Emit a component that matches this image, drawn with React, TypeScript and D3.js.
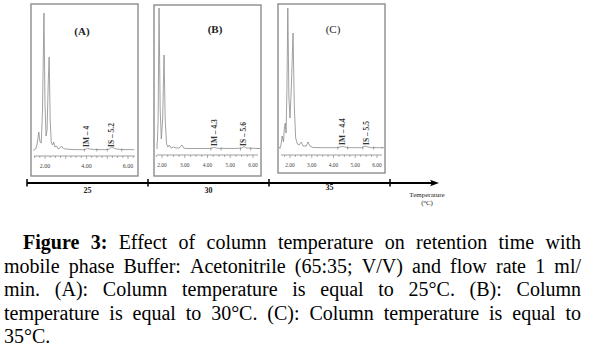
import React, { useMemo } from 'react';
import * as d3 from 'd3';

// ---------- DATA ----------
const temperatures = [25, 30, 35];
const panelTitles = ['(A)', '(B)', '(C)'];

// chromatogram traces: [retention time (min), signal above baseline]
const traceA: [number, number][] = [
  [1.45, 0], [1.55, 1], [1.62, 6], [1.7, 18], [1.76, 8], [1.82, 7], [1.88, 40], [1.95, 137],
  [2.0, 45], [2.05, 14], [2.1, 20], [2.16, 70], [2.2, 93], [2.25, 30], [2.3, 8], [2.36, 5],
  [2.42, 8], [2.48, 3], [2.56, 4], [2.64, 1], [2.72, 2], [2.8, 4], [2.88, 1.5], [3.0, 1],
  [3.3, 0.5], [3.8, 0.3], [3.95, 0.5], [4.05, 1.8], [4.15, 1], [4.4, 0.5], [4.9, 0.3],
  [5.1, 0.8], [5.2, 3], [5.3, 2], [5.45, 1], [5.7, 0.5], [6.2, 0.3],
];
const traceB: [number, number][] = [
  [1.78, 5], [1.8, 8], [1.83, 30], [1.87, 141], [1.92, 40], [1.97, 10], [2.03, 30], [2.09, 94],
  [2.14, 30], [2.2, 5], [2.26, 2], [2.32, 4], [2.4, 1], [2.5, 2], [2.62, 1], [2.75, 1],
  [2.88, 4], [2.95, 1], [3.05, 0.5], [3.5, 0.5], [4.1, 0.5], [4.3, 1.5], [4.45, 0.7],
  [5.2, 0.5], [5.5, 1], [5.6, 2.5], [5.7, 1], [6.3, 0.5],
];
const traceC: [number, number][] = [
  [1.5, 0], [1.58, 2], [1.64, 12], [1.7, 6], [1.74, 20], [1.78, 25], [1.82, 15], [1.86, 60],
  [1.9, 140], [1.95, 50], [2.0, 30], [2.06, 60], [2.14, 115], [2.2, 40], [2.26, 10], [2.34, 4],
  [2.42, 3], [2.52, 6], [2.6, 2], [2.75, 2], [2.83, 6], [2.92, 2], [3.05, 0.5], [3.5, 0.3],
  [4.2, 0.3], [4.35, 1.5], [4.5, 1.2], [4.65, 0.3], [5.3, 0.3], [5.45, 2], [5.55, 1.2],
  [5.75, 0.3], [6.3, 0.3],
];

const peakNamesA = ['IM \u2013 4', 'IS \u2013 5.2'];
const peakTimesA = [4.0, 5.2];
const peakNamesB = ['IM \u2013 4.3', 'IS \u2013 5.6'];
const peakTimesB = [4.3, 5.6];
const peakNamesC = ['IM \u2013 4.4', 'IS \u2013 5.5'];
const peakTimesC = [4.4, 5.5];

// integration start / end marks
const marksA = [3.9, 4.5, 5.0, 5.7];
const marksB = [4.15, 4.6, 5.45, 5.9];
const marksC = [4.2, 4.65, 5.35, 5.85];

const tickValuesA = [2, 4, 6];
const tickLabelsA = ['2.00', '4.00', '6.00'];
const tickValuesBC = [2, 3, 4, 5, 6];
const tickLabelsBC = ['2.00', '3.00', '4.00', '5.00', '6.00'];

const captionLines = [
  'Figure 3: Effect of column temperature on retention time with',
  'mobile phase Buffer: Acetonitrile (65:35; V/V) and flow rate 1 ml/',
  'min. (A): Column temperature is equal to 25\u00b0C. (B): Column',
  'temperature is equal to 30\u00b0C. (C): Column temperature is equal to',
  '35\u00b0C.',
];

// ---------- LAYOUT ----------
const W = 592;
const H = 361;
const SERIF = "'Liberation Serif', 'Times New Roman', serif";

const panels = [
  { trace: traceA, names: peakNamesA, times: peakTimesA, marks: marksA, tv: tickValuesA, tl: tickLabelsA,
    box: [31, 4, 138, 176], xr: [45, 128], base: 150, axisY: 156, tickFs: 6, titleXY: [82, 35], titleBold: true },
  { trace: traceB, names: peakNamesB, times: peakTimesB, marks: marksB, tv: tickValuesBC, tl: tickLabelsBC,
    box: [154, 5, 261, 176], xr: [162, 253], base: 149, axisY: 155, tickFs: 5.4, titleXY: [215, 33], titleBold: true },
  { trace: traceC, names: peakNamesC, times: peakTimesC, marks: marksC, tv: tickValuesBC, tl: tickLabelsBC,
    box: [278, 4, 385, 173], xr: [290, 377], base: 148, axisY: 155, tickFs: 5.4, titleXY: [333, 33], titleBold: false },
];

function Panel({ p, idx }: { p: any; idx: number }) {
  const [x0, y0, x1, y1] = p.box;
  const x = d3.scaleLinear().domain([2, 6]).range(p.xr);
  const y = d3.scaleLinear().domain([0, 140]).range([p.base, p.base - 140]);
  const tmin = x.invert(x0 + 2);
  const tmax = x.invert(x1 - 3);
  const line = d3.line<[number, number]>().x((d) => x(d[0])).y((d) => y(d[1]));
  const baseExt: [number, number][] = [[tmin + 0.05, 0], ...p.trace, [tmax - 0.03, 0.3]];
  const minor = d3.range(Math.ceil(tmin * 4) / 4, tmax, 0.25);
  return (
    <g>
      <rect x={x0} y={y0} width={x1 - x0} height={y1 - y0} fill="#fff" stroke="#8c8c8c" strokeWidth={1.4} />
      <text x={p.titleXY[0]} y={p.titleXY[1]} fontFamily={SERIF} fontSize={11}
        fontWeight={p.titleBold ? 'bold' : 'normal'} textAnchor="middle" fill="#222">{panelTitles[idx]}</text>
      <path d={line(baseExt) || ''} fill="none" stroke="#8a8a8a" strokeWidth={0.8} />
      {p.marks.map((m: number, i: number) => (
        <line key={i} x1={x(m)} x2={x(m)} y1={y(0) - 1.5} y2={y(0) + 1.5} stroke="#666" strokeWidth={0.6} />
      ))}
      {p.names.map((n: string, i: number) => (
        <text key={i} transform={`translate(${x(p.times[i]) + 2.5},${p.base - 3}) rotate(-90)`}
          fontFamily={SERIF} fontSize={7.5} fontWeight="bold" fill="#333">{n}</text>
      ))}
      <line x1={x0 + 3} x2={x1 - 3} y1={p.axisY} y2={p.axisY} stroke="#777" strokeWidth={0.7} />
      {minor.map((t: number, i: number) => (
        <line key={i} x1={x(t)} x2={x(t)} y1={p.axisY} y2={p.axisY + (Number.isInteger(t) ? 3 : 2)} stroke="#777" strokeWidth={0.6} />
      ))}
      {p.tv.map((t: number, i: number) => (
        <text key={i} x={x(t)} y={p.axisY + 12} fontFamily={SERIF} fontSize={p.tickFs} textAnchor="middle" fill="#444">{p.tl[i]}</text>
      ))}
    </g>
  );
}

export default function App() {
  const band = d3.scaleBand<number>().domain(temperatures).range([27, 390]);
  const axisY = 183;
  const boundaries = [...temperatures.map((t) => band(t) as number), (band(35) as number) + band.bandwidth()];

  const caption = useMemo(() => {
    const canvas = document.createElement('canvas');
    const ctx = canvas.getContext('2d')!;
    const meas = (s: string, fs: number, bold: boolean) => {
      ctx.font = `${bold ? 'bold ' : ''}${fs}px ${SERIF}`;
      return ctx.measureText(s).width;
    };
    const left = 4;
    const right = 581;
    const natural = meas(captionLines[1], 18, false);
    const fs = Math.min(20, Math.max(16, (18 * (right - left - 3)) / natural));
    const out: { x: number; y: number; t: string; b: boolean }[] = [];
    captionLines.forEach((ln, li) => {
      const words = ln.split(' ');
      const bolds = words.map((w, wi) => li === 0 && wi < 2);
      const widths = words.map((w, wi) => meas(w, fs, bolds[wi]));
      const start = li === 0 ? 23 : left;
      const total = d3.sum(widths);
      const gap = li === captionLines.length - 1 ? meas(' ', fs, false) : (right - start - total) / (words.length - 1);
      let cx = start;
      words.forEach((w, wi) => {
        out.push({ x: cx, y: 249 + li * 23.5, t: w, b: bolds[wi] });
        cx += widths[wi] + gap;
      });
    });
    return { items: out, fs };
  }, []);

  return (
    <svg width={W} height={H} style={{ position: 'absolute', left: 0, top: 0, background: '#fff' }}>
      <rect width={W} height={H} fill="#fff" />
      {panels.map((p, i) => <Panel key={i} p={p} idx={i} />)}
      <line x1={27} x2={433} y1={axisY} y2={axisY} stroke="#000" strokeWidth={1.8} />
      <path d={`M439,${axisY} L430,${axisY - 3.2} L432,${axisY} L430,${axisY + 3.2} Z`} fill="#000" />
      {boundaries.map((b, i) => (
        <line key={i} x1={b} x2={b} y1={axisY - 4} y2={axisY + 3.5} stroke="#000" strokeWidth={1.5} />
      ))}
      {temperatures.map((t, i) => (
        <text key={t} x={(band(t) as number) + band.bandwidth() / 2} y={i === 2 ? 190 : 193}
          fontFamily={SERIF} fontSize={8} fontWeight="bold" textAnchor="middle" fill="#222">{t}</text>
      ))}
      <text x={427} y={197} fontFamily={SERIF} fontSize={7} textAnchor="middle" fill="#222">Temperature</text>
      <text x={427} y={205} fontFamily={SERIF} fontSize={7} textAnchor="middle" fill="#222">(<tspan fontSize={4.8} dy={-2}>o</tspan><tspan dy={2}>C)</tspan></text>
      {caption.items.map((c, i) => (
        <text key={i} x={c.x} y={c.y} fontFamily={SERIF} fontSize={caption.fs} fontWeight={c.b ? 'bold' : 'normal'} fill="#000">{c.t}</text>
      ))}
    </svg>
  );
}
